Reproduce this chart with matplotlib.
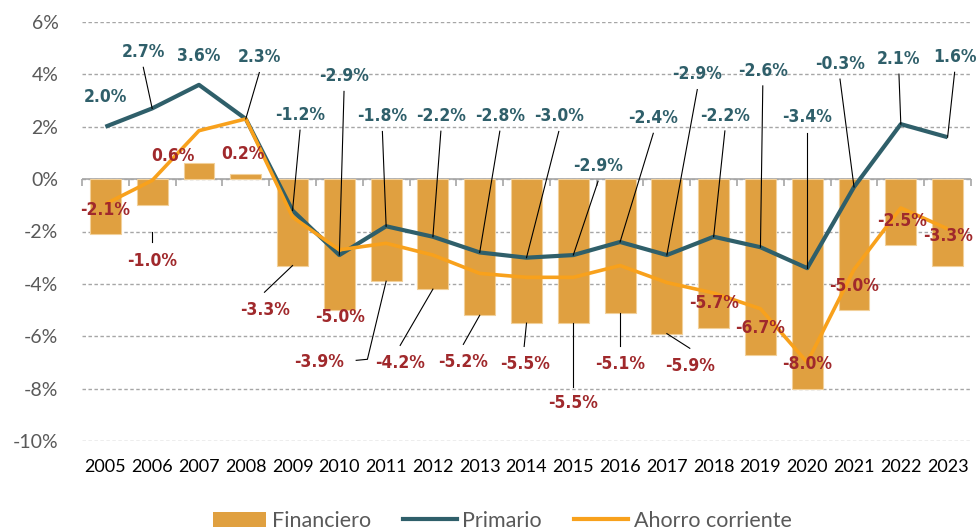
import numpy as np
import matplotlib
matplotlib.use("Agg")
import matplotlib.pyplot as plt
from matplotlib.ticker import FuncFormatter
from matplotlib.patches import Patch
from matplotlib.lines import Line2D

# ---------------- data ----------------
years = ["2005", "2006", "2007", "2008", "2009", "2010", "2011", "2012", "2013", "2014",
         "2015", "2016", "2017", "2018", "2019", "2020", "2021", "2022", "2023"]
financiero = [-2.1, -1.0, 0.6, 0.2, -3.3, -5.0, -3.9, -4.2, -5.2, -5.5,
              -5.5, -5.1, -5.9, -5.7, -6.7, -8.0, -5.0, -2.5, -3.3]
primario = [2.0, 2.7, 3.6, 2.3, -1.2, -2.9, -1.8, -2.2, -2.8, -3.0,
            -2.9, -2.4, -2.9, -2.2, -2.6, -3.4, -0.3, 2.1, 1.6]
ahorro = [-0.95, -0.05, 1.85, 2.3, -1.45, -2.7, -2.45, -2.9, -3.6, -3.75,
          -3.75, -3.3, -3.95, -4.35, -4.95, -7.0, -3.45, -1.1, -1.9]
yticks = [-10, -8, -6, -4, -2, 0, 2, 4, 6]

# ---------------- label placement (positions only) ----------------
prim_lab_x = [0.0, 0.81, 2.0, 3.29, 4.16, 5.10, 5.92, 7.17, 8.43, 9.69,
              10.53, 11.71, 12.65, 13.24, 14.05, 15.0, 15.7, 16.96, 18.15]
prim_lab_y = [3.13, 4.85, 4.70, 4.65, 2.45, 3.93, 2.40, 2.41, 2.41, 2.40,
              0.50, 2.33, 4.00, 2.42, 4.14, 2.36, 4.40, 4.59, 4.66]
prim_leader = [False, True, False, True, True, True, True, True, True, True,
               True, True, True, True, True, True, True, True, True]

fin_lab_x = [0.0, 1.0, 1.45, 2.95, 3.42, 5.02, 4.57, 6.30, 7.65, 8.97,
             10.0, 11.0, 12.5, 13.0, 14.0, 15.0, 16.0, 17.02, 18.0]
fin_lab_y = [-1.17, -3.14, 0.89, 0.96, -5.0, -5.28, -7.0, -7.04, -7.0, -7.07,
             -8.53, -7.07, -7.15, -4.74, -5.7, -7.07, -4.09, -1.6, -2.18]
fin_leaders = {
    1: [(1.0, -2.03), (1.0, -2.42)],
    4: [None, (3.40, -4.32)],
    6: [None, (5.60, -6.88), (5.36, -6.92)],
    7: [None, (6.30, -6.35)],
    8: [None, (7.65, -6.31)],
    9: [None, (8.95, -6.39)],
    10: [None, (10.0, -7.92)],
    11: [None, (11.0, -6.39)],
    12: [None, (12.49, -6.46)],
}

# ---------------- style ----------------
C_BAR = "#E0A040"
C_PRIM = "#2F5F6A"
C_AHO = "#F8A11C"
C_RED = "#A0292C"
C_GRID = "#A6A6A6"
C_TXT = "#595959"
TICK_FONT = ["Lato", "DejaVu Sans"]
LAB_FONT = ["DejaVu Sans"]

fig = plt.figure(figsize=(9.77, 5.30), dpi=100)
ax = fig.add_axes([82 / 977, 1 - 441 / 530, 889 / 977, 419 / 530])

x = np.arange(len(years))
ax.set_xlim(-0.5, len(years) - 0.5)
ax.set_ylim(min(yticks), max(yticks))

ax.bar(x, financiero, width=0.66, color=C_BAR, edgecolor="#F2D09A",
       linewidth=0.8, zorder=2)
ax.plot(x, primario, color=C_PRIM, lw=3.0, zorder=3, solid_capstyle="butt")
ax.plot(x, ahorro, color=C_AHO, lw=2.6, zorder=3, solid_capstyle="butt")

# grid & zero axis
ax.set_yticks(yticks)
ax.yaxis.grid(True, linestyle=(0, (2.5, 1.8)), color=C_GRID, lw=1.0, zorder=0)
ax.set_axisbelow(True)
ax.axhline(0, color=C_GRID, lw=1.2, zorder=1)
bounds = np.arange(len(years) + 1) - 0.5
ax.plot(bounds, np.zeros_like(bounds), linestyle="none", marker=3,
        markersize=5, color=C_GRID, markeredgewidth=1.2, zorder=1, clip_on=False)

for s in ax.spines.values():
    s.set_visible(False)

ax.set_xticks(x)
ax.set_xticklabels(years, fontfamily=TICK_FONT, fontsize=13, color="black")
ax.tick_params(axis="x", length=0, pad=13)
ax.yaxis.set_major_formatter(FuncFormatter(lambda v, p: f"{v:.0f}%"))
ax.tick_params(axis="y", length=0, pad=17, labelsize=14, labelcolor=C_TXT)
for t in ax.get_yticklabels():
    t.set_fontfamily(TICK_FONT)

LAB_KW = dict(ha="center", va="center", fontsize=12.5, fontweight="bold",
              fontfamily=LAB_FONT, fontstretch="condensed", zorder=5)

# primario labels
for i, v in enumerate(primario):
    lx, ly = prim_lab_x[i], prim_lab_y[i]
    ax.text(lx, ly, f"{v:.1f}%", color=C_PRIM, **LAB_KW)
    if prim_leader[i]:
        ax.plot([lx, i], [ly - 0.58, v], color="black", lw=0.8, zorder=4)

# financiero labels
for i, v in enumerate(financiero):
    lx, ly = fin_lab_x[i], fin_lab_y[i]
    ax.text(lx, ly, f"{v:.1f}%", color=C_RED, **LAB_KW)
    if i in fin_leaders:
        pts = fin_leaders[i]
        start = pts[0] if pts[0] is not None else (i, v)
        path = [start] + list(pts[1:])
        ax.plot([p[0] for p in path], [p[1] for p in path], color="black",
                lw=0.8, zorder=4)

# legend
handles = [Patch(facecolor=C_BAR, edgecolor="none"),
           Line2D([], [], color=C_PRIM, lw=3),
           Line2D([], [], color=C_AHO, lw=3)]
leg = fig.legend(handles, ["Financiero", "Primario", "Ahorro corriente"],
                 loc="center", bbox_to_anchor=(502 / 977, 1 - 521 / 530),
                 ncol=3, frameon=False, handlelength=2.5, handleheight=0.75,
                 handletextpad=0.25, columnspacing=1.5, borderpad=0,
                 prop={"family": TICK_FONT, "size": 15.5})
for t in leg.get_texts():
    t.set_color(C_TXT)

fig.savefig("out.png", dpi=100)
